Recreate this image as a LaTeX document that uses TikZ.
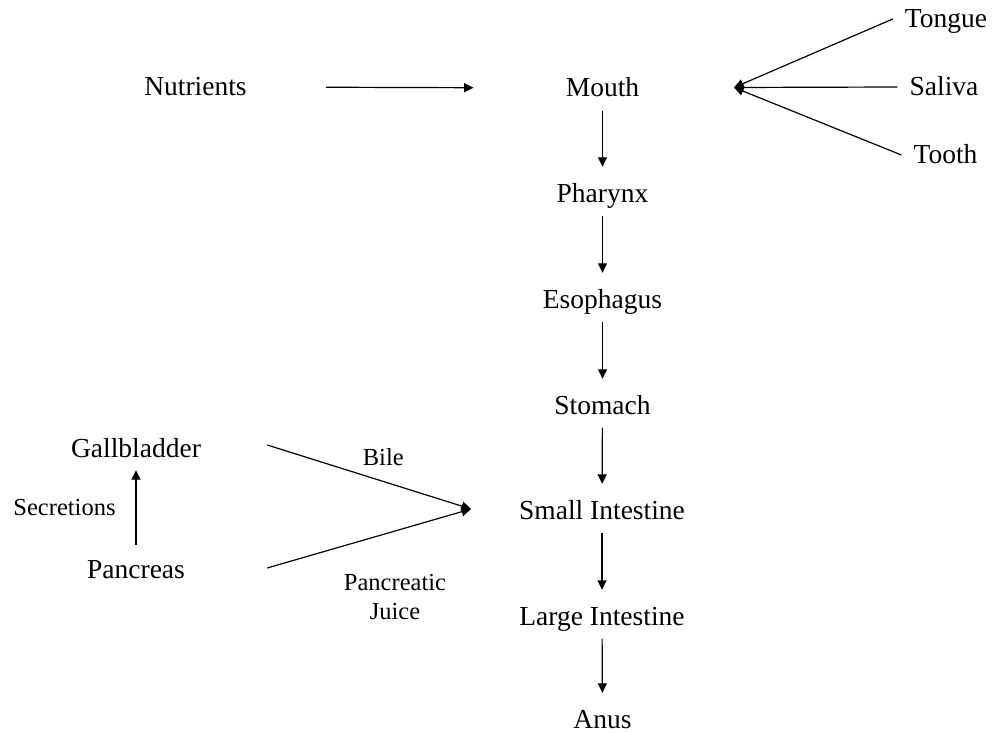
\documentclass[tikz,border=0pt]{standalone}
\usepackage{fontspec}
\setmainfont{Liberation Serif}
\usetikzlibrary{arrows.meta}
\begin{document}
\begin{tikzpicture}[x=1pt,y=-1pt,
  organ/.style={anchor=base, inner sep=0pt, text height=18pt, text depth=0pt,
                font=\fontsize{27.5}{30}\selectfont},
  part/.style={organ, inner xsep=12pt},
  gland/.style={organ, minimum width=262pt},
  note/.style={anchor=base, inner sep=0pt, align=center,
               font=\fontsize{24.5}{28.5}\selectfont},
  link/.style={line width=1.2pt, -{Triangle[length=9.5pt,width=9pt]}},
  flow/.style={link, shorten <=13.5pt, shorten >=17pt}]
\useasboundingbox (0,0) rectangle (993,733);

% main passage
\node[organ] (nut)   at (195.5,96)  {Nutrients};
\node[organ] (mouth) at (602.5,97)  {Mouth};
\node[organ] (phar)  at (602.5,202) {Pharynx};
\node[organ] (eso)   at (602.5,308) {Esophagus};
\node[organ] (stom)  at (602.5,414) {Stomach};
\node[organ] (small) at (602,519)   {Small Intestine};
\node[organ] (large) at (602,625)   {Large Intestine};
\node[organ] (anus)  at (602.5,728) {Anus};

% parts of the mouth
\node[part] (tongue) at (946,28)    {Tongue};
\node[part] (saliva) at (944,96)    {Saliva};
\node[part] (tooth)  at (945.5,164) {Tooth};
\coordinate (mjoin) at (734,87.5);

% accessory organs (wide boxes so their east anchors sit where the ducts begin)
\node[gland, text height=24pt] (gall) at (136,457) {Gallbladder};
\node[gland, text height=20pt] (panc) at (136,578) {Pancreas};
\coordinate (sjoin) at (471,509);

% labels
\node[note] (secr) at (64.5,515) {Secretions};
\node[note] (bile) at (383.3,465) {Bile};
\node[note] (pjuice) at (395,619) {Pancreatic\\Juice};

% connectors
\draw[link, shorten <=79pt, shorten >=92pt] (nut.east) -- (mouth.west);
\draw[flow] (mouth) -- (phar);
\draw[flow] (phar) -- (eso);
\draw[flow] (eso) -- (stom);
\draw[flow] (stom) -- (small);
\draw[flow] (small) -- (large);
\draw[flow] (large) -- (anus);

\draw[link] (tongue.west) -- (mjoin);
\draw[link] (saliva.west) -- (mjoin);
\draw[link] (tooth.west) -- (mjoin);

\draw[link] (gall.east) -- (sjoin);
\draw[link] (panc.east) -- (sjoin);
\draw[link, shorten <=13pt, shorten >=13pt] (panc.north) -- (gall.south);
\end{tikzpicture}
\end{document}
